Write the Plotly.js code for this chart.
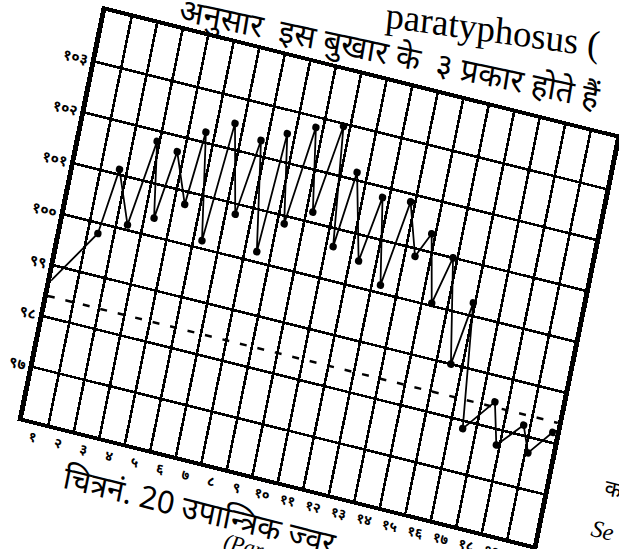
<!DOCTYPE html>
<html>
<head>
<meta charset="utf-8">
<script src="https://cdn.plot.ly/plotly-3.0.1.min.js"></script>
<style>
  html, body { margin:0; padding:0; background:#fff; }
  #wrap { position:absolute; left:0; top:0; width:619px; height:549px; overflow:hidden; background:#fff; }
  #chart { position:absolute; left:0; top:0; width:900px; height:800px; transform-origin:0 0; }
</style>
</head>
<body>
<div id="wrap"><div id="chart"></div></div>
<script>
// ---- data ----
const dayLabels = ['१','२','३','४','५','६','७','८','९','१०','११','१२','१३','१४','१५','१६','१७','१८','१९','२०'];
const tempTicks = [97, 98, 99, 100, 101, 102, 103];
const tempLabels = ['९७','९८','९९','१००','१०१','१०२','१०३'];
// reading positions (in day columns, 0 = left edge) and temperatures (°F)
const readingPos = [0, 1.39, 1.71, 2.43, 2.90, 3.37, 3.73, 4.41, 4.65, 5.33, 5.67, 6.37, 6.77, 7.46, 7.70, 8.27, 8.72, 9.25, 9.74, 10.27, 10.60, 11.33, 11.74, 12.33, 12.82, 13.40, 13.85, 14.38, 14.83, 15.56, 15.93, 16.49, 17.49, 17.87, 18.74, 19.11, 19.88];
const temps = [98.7, 99.8, 101.1, 100.1, 101.8, 100.35, 101.7, 100.75, 102.2, 100.15, 102.5, 100.8, 102.3, 100.2, 102.55, 100.85, 102.8, 101.2, 102.95, 100.65, 102.15, 100.5, 101.8, 100.15, 101.85, 100.85, 101.35, 100.05, 101.0, 99.0, 100.25, 97.85, 98.5, 97.7, 98.2, 97.7, 98.2];
const normalTemp = 98.4;
const normalSpan = [0, 20];

// ---- layout geometry ----
const L = 150, T = 150, W = 526, H = 415, FW = 900, FH = 800;
const TLc = [106, 11], BLc = [23, 418], BRc = [533, 545];

const traces = [
  { x: normalSpan, y: normalSpan.map(() => normalTemp), mode: 'lines',
    line: { color: '#000', width: 2.5, dash: '7px,11px' }, hoverinfo: 'skip' },
  { x: readingPos, y: temps, mode: 'lines', line: { color: '#000', width: 1.8 }, hoverinfo: 'skip' },
  { x: readingPos.slice(1), y: temps.slice(1), mode: 'markers',
    marker: { color: '#000', size: 7.5 }, hoverinfo: 'skip' }
];

const serif = 'Liberation Serif, DejaVu Serif, serif';
const ann = (text, x, y, opts) => Object.assign({
  text, x, y, xref: 'paper', yref: 'paper', showarrow: false,
  xanchor: 'center', yanchor: 'middle'
}, opts);

const layout = {
  width: FW, height: FH, autosize: false,
  margin: { l: L, t: T, r: FW - L - W, b: FH - T - H, pad: 0 },
  paper_bgcolor: 'rgba(0,0,0,0)', plot_bgcolor: '#fff',
  showlegend: false,
  font: { family: 'Noto Sans, DejaVu Sans, sans-serif', color: '#000' },
  xaxis: {
    range: [0, 20], tickmode: 'array',
    tickvals: dayLabels.map((_, i) => i + 0.5), ticktext: dayLabels,
    showgrid: false, zeroline: false, ticks: '',
    minor: { tickmode: 'linear', tick0: 0, dtick: 1, showgrid: true, gridcolor: '#000', gridwidth: 2.6, ticks: '' },
    showline: true, mirror: true, linecolor: '#000', linewidth: 4,
    tickfont: { size: 14, color: '#000', weight: 'bold' }, fixedrange: true
  },
  yaxis: {
    range: [96, 104], tickmode: 'array', tickvals: tempTicks, ticktext: tempLabels,
    showgrid: true, gridcolor: '#000', gridwidth: 2.6, zeroline: false, ticks: '',
    showline: true, mirror: true, linecolor: '#000', linewidth: 5,
    tickfont: { size: 15, color: '#000', weight: 'bold' }, fixedrange: true
  },
  annotations: [
    ann('paratyphosus (', 0.73, 1.18, { textangle: -6, font: { family: serif, size: 37 } }),
    ann('अनुसार  इस बुखार के  ३ प्रकार होते हैं', 0.545, 1.068, { textangle: -2, font: { size: 32 } }),
    ann('चित्रनं. 20 उपान्त्रिक ज्वर', 0.096, -0.11, { xanchor: 'left', font: { size: 31 } }),
    ann('(Paratyphoid Fever)', 0.418, -0.169, { xanchor: 'left', font: { family: serif, size: 22, style: 'italic' } }),
    ann('क', 1.108, 0.181, { xanchor: 'left', font: { size: 22 } }),
    ann('Se', 1.099, 0.075, { xanchor: 'left', font: { family: serif, size: 24, style: 'italic' } })
  ]
};

Plotly.newPlot('chart', traces, layout, { displayModeBar: false, staticPlot: true }).then(() => {
  const a = (BRc[0] - BLc[0]) / W, b = (BRc[1] - BLc[1]) / W;
  const c = (BLc[0] - TLc[0]) / H, d = (BLc[1] - TLc[1]) / H;
  const e = TLc[0] - a * L - c * T, f = TLc[1] - b * L - d * T;
  document.getElementById('chart').style.transform = `matrix(${a},${b},${c},${d},${e},${f})`;
});
</script>
</body>
</html>
